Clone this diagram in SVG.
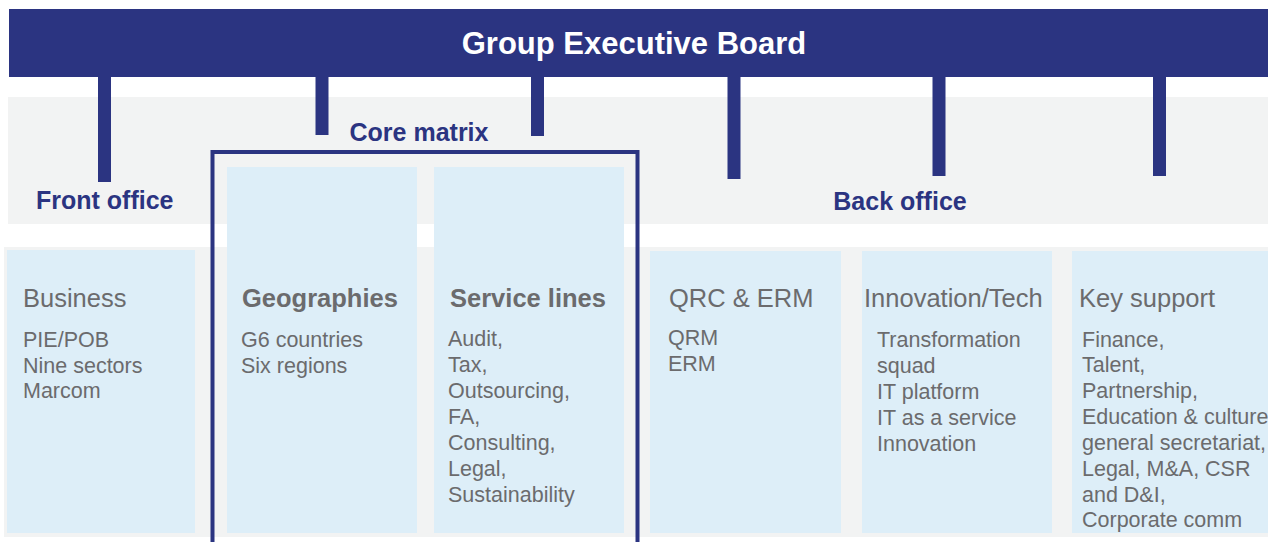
<svg xmlns="http://www.w3.org/2000/svg" width="1268" height="542" viewBox="0 0 1268 542">
<style>
.band{fill:#f2f3f3}
.box{fill:#ddeef8}
.navy{fill:#2b3481}
.lbl{font-family:"Liberation Sans",Arial,sans-serif;font-weight:bold;font-size:25px;fill:#2b3481}
.hd{font-family:"Liberation Sans",Arial,sans-serif;font-size:25.5px;fill:#6b6b6d}
.hdb{font-family:"Liberation Sans",Arial,sans-serif;font-size:25.5px;font-weight:bold;fill:#6b6b6d}
.it{font-family:"Liberation Sans",Arial,sans-serif;font-size:21.5px;fill:#6b6b6d}
.conn{stroke:#2b3481;stroke-width:13;fill:none}
</style>
<rect x="0" y="0" width="1268" height="542" fill="#ffffff"/>
<rect class="band" x="8" y="97" width="1260" height="127"/>
<rect class="band" x="4" y="247" width="1264" height="290"/>

<g id="connectors">
<line class="conn" x1="104.5" y1="76" x2="104.5" y2="182"/>
<line class="conn" x1="322" y1="76" x2="322" y2="135"/>
<line class="conn" x1="537.5" y1="76" x2="537.5" y2="136"/>
<line class="conn" x1="734" y1="76" x2="734" y2="179"/>
<line class="conn" x1="939" y1="76" x2="939" y2="176"/>
<line class="conn" x1="1159.5" y1="76" x2="1159.5" y2="176"/>
</g>

<g id="board">
<rect class="navy" x="9" y="9" width="1259" height="68"/>
<text x="634" y="54" text-anchor="middle" font-family="Liberation Sans,Arial,sans-serif" font-weight="bold" font-size="31" fill="#ffffff">Group Executive Board</text>
</g>

<g id="front-office-label">
<text class="lbl" x="36" y="209">Front office</text>
</g>
<g id="back-office-label">
<text class="lbl" x="900" y="210" text-anchor="middle">Back office</text>
</g>

<g id="core-matrix">
<rect x="212.5" y="152" width="425" height="420" fill="none" stroke="#2b3481" stroke-width="4"/>
<text class="lbl" x="419" y="141" text-anchor="middle">Core matrix</text>
</g>

<g id="business">
<rect class="box" x="7" y="250" width="188" height="283"/>
<text class="hd" x="23" y="307">Business</text>
<text class="it" x="23" y="347">PIE/POB</text>
<text class="it" x="23" y="373">Nine sectors</text>
<text class="it" x="23" y="398">Marcom</text>
</g>

<g id="geographies">
<rect class="box" x="227" y="167" width="190" height="366"/>
<text class="hdb" x="242" y="307">Geographies</text>
<text class="it" x="241" y="347">G6 countries</text>
<text class="it" x="241" y="373">Six regions</text>
</g>

<g id="service-lines">
<rect class="box" x="434" y="167" width="190" height="366"/>
<text class="hdb" x="450" y="307">Service lines</text>
<text class="it" x="448" y="346">Audit,</text>
<text class="it" x="448" y="372">Tax,</text>
<text class="it" x="448" y="398">Outsourcing,</text>
<text class="it" x="448" y="424">FA,</text>
<text class="it" x="448" y="450">Consulting,</text>
<text class="it" x="448" y="476">Legal,</text>
<text class="it" x="448" y="502">Sustainability</text>
</g>

<g id="qrc-erm">
<rect class="box" x="650" y="251" width="191" height="282"/>
<text class="hd" x="669" y="307">QRC &amp; ERM</text>
<text class="it" x="668" y="345">QRM</text>
<text class="it" x="668" y="371">ERM</text>
</g>

<g id="innovation-tech">
<rect class="box" x="862" y="251" width="190" height="282"/>
<text class="hd" x="864" y="307">Innovation/Tech</text>
<text class="it" x="877" y="347">Transformation</text>
<text class="it" x="877" y="373">squad</text>
<text class="it" x="877" y="399">IT platform</text>
<text class="it" x="877" y="425">IT as a service</text>
<text class="it" x="877" y="451">Innovation</text>
</g>

<g id="key-support">
<rect class="box" x="1072" y="251" width="196" height="282"/>
<text class="hd" x="1079" y="307">Key support</text>
<text class="it" x="1082" y="347">Finance,</text>
<text class="it" x="1082" y="372">Talent,</text>
<text class="it" x="1082" y="398">Partnership,</text>
<text class="it" x="1082" y="424">Education &amp; culture</text>
<text class="it" x="1082" y="450">general secretariat,</text>
<text class="it" x="1082" y="476">Legal, M&amp;A, CSR</text>
<text class="it" x="1082" y="502">and D&amp;I,</text>
<text class="it" x="1082" y="527">Corporate comm</text>
</g>
</svg>
